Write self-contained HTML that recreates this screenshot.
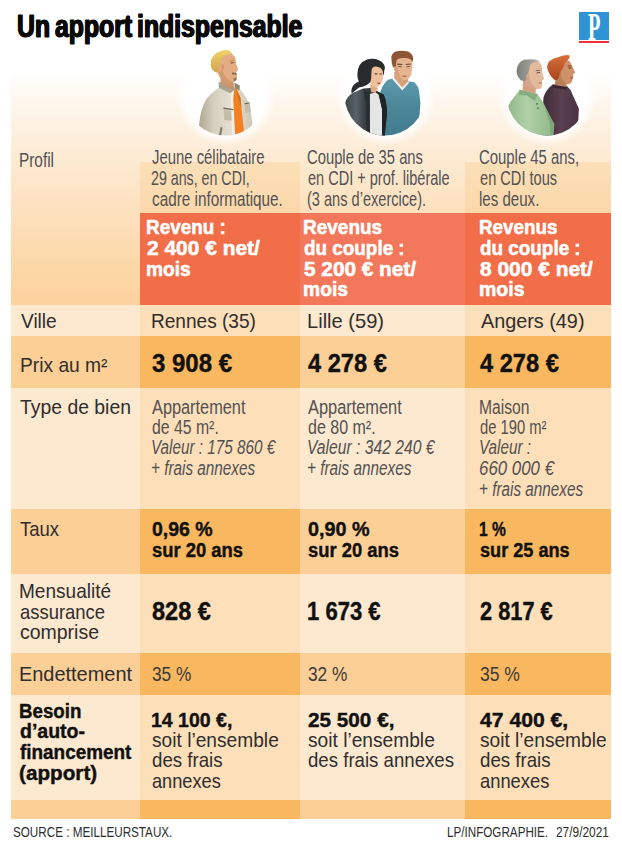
<!DOCTYPE html>
<html lang="fr"><head><meta charset="utf-8"><title>Un apport indispensable</title>
<style>
html,body{margin:0;padding:0;background:#fff;}
body{width:622px;height:847px;position:relative;overflow:hidden;font-family:"Liberation Sans",sans-serif;}
.c{position:absolute;}
.t{position:absolute;white-space:nowrap;line-height:1;transform-origin:0 50%;display:block;}
svg{position:absolute;left:0;top:0;}
</style></head><body>
<div class="c" style="left:11px;top:72px;width:600px;height:233px;background:linear-gradient(to bottom,#ffffff 0%,#FEF7EE 12%,#FDECD7 33%,#FDE1BF 58%,#FCD8A8 83%,#FCD29D 100%);"></div>
<div class="c" style="left:140px;top:162px;width:160px;height:51px;background:linear-gradient(to bottom,#FCDFB8,#FBD8AA);"></div>
<div class="c" style="left:465px;top:162px;width:146px;height:51px;background:linear-gradient(to bottom,#FCDFB8,#FBD8AA);"></div>
<div class="c" style="left:140px;top:213px;width:160px;height:92px;background:#F16E48;"></div>
<div class="c" style="left:300px;top:213px;width:165px;height:92px;background:#F3775A;"></div>
<div class="c" style="left:465px;top:213px;width:146px;height:92px;background:#F16E48;"></div>
<div class="c" style="left:11px;top:305px;width:129px;height:31px;background:#FDE8D0;"></div>
<div class="c" style="left:140px;top:305px;width:160px;height:31px;background:#FDDFBA;"></div>
<div class="c" style="left:300px;top:305px;width:165px;height:31px;background:#FDE8D0;"></div>
<div class="c" style="left:465px;top:305px;width:146px;height:31px;background:#FDDFBA;"></div>
<div class="c" style="left:11px;top:336px;width:129px;height:52px;background:#FCCF97;"></div>
<div class="c" style="left:140px;top:336px;width:160px;height:52px;background:#F9B760;"></div>
<div class="c" style="left:300px;top:336px;width:165px;height:52px;background:#FCCF97;"></div>
<div class="c" style="left:465px;top:336px;width:146px;height:52px;background:#F9B760;"></div>
<div class="c" style="left:11px;top:388px;width:129px;height:121px;background:#FDE8D0;"></div>
<div class="c" style="left:140px;top:388px;width:160px;height:121px;background:#FDDFBA;"></div>
<div class="c" style="left:300px;top:388px;width:165px;height:121px;background:#FDE8D0;"></div>
<div class="c" style="left:465px;top:388px;width:146px;height:121px;background:#FDDFBA;"></div>
<div class="c" style="left:11px;top:509px;width:129px;height:65px;background:#FCCF97;"></div>
<div class="c" style="left:140px;top:509px;width:160px;height:65px;background:#F9B760;"></div>
<div class="c" style="left:300px;top:509px;width:165px;height:65px;background:#FCCF97;"></div>
<div class="c" style="left:465px;top:509px;width:146px;height:65px;background:#F9B760;"></div>
<div class="c" style="left:11px;top:574px;width:129px;height:79px;background:#FDE8D0;"></div>
<div class="c" style="left:140px;top:574px;width:160px;height:79px;background:#FDDFBA;"></div>
<div class="c" style="left:300px;top:574px;width:165px;height:79px;background:#FDE8D0;"></div>
<div class="c" style="left:465px;top:574px;width:146px;height:79px;background:#FDDFBA;"></div>
<div class="c" style="left:11px;top:653px;width:129px;height:42px;background:#FCCF97;"></div>
<div class="c" style="left:140px;top:653px;width:160px;height:42px;background:#F9B760;"></div>
<div class="c" style="left:300px;top:653px;width:165px;height:42px;background:#FCCF97;"></div>
<div class="c" style="left:465px;top:653px;width:146px;height:42px;background:#F9B760;"></div>
<div class="c" style="left:11px;top:695px;width:129px;height:105px;background:#FDE8D0;"></div>
<div class="c" style="left:140px;top:695px;width:160px;height:105px;background:#FDDFBA;"></div>
<div class="c" style="left:300px;top:695px;width:165px;height:105px;background:#FDE8D0;"></div>
<div class="c" style="left:465px;top:695px;width:146px;height:105px;background:#FDDFBA;"></div>
<div class="c" style="left:11px;top:800px;width:129px;height:19px;background:#FCCF97;"></div>
<div class="c" style="left:140px;top:800px;width:160px;height:19px;background:#F9B760;"></div>
<div class="c" style="left:300px;top:800px;width:165px;height:19px;background:#FCCF97;"></div>
<div class="c" style="left:465px;top:800px;width:146px;height:19px;background:#F9B760;"></div>
<div class="c" style="left:174.5px;top:44px;width:102px;height:102px;border-radius:50%;background:radial-gradient(circle closest-side,#fff 0%,#fff 78%,rgba(255,255,255,0) 100%);"></div><div class="c" style="left:334.5px;top:44px;width:102px;height:102px;border-radius:50%;background:radial-gradient(circle closest-side,#fff 0%,#fff 78%,rgba(255,255,255,0) 100%);"></div><div class="c" style="left:496px;top:44px;width:102px;height:102px;border-radius:50%;background:radial-gradient(circle closest-side,#fff 0%,#fff 78%,rgba(255,255,255,0) 100%);"></div>
<svg width="622" height="160" viewBox="0 0 622 160">
<defs>
<clipPath id="k1"><circle cx="225.5" cy="95" r="40.5"/></clipPath>
<clipPath id="k2"><circle cx="385" cy="95" r="40.5"/></clipPath>
<clipPath id="k3"><circle cx="547" cy="95" r="40.5"/></clipPath>
<linearGradient id="jk" x1="0" x2="1" y1="0" y2="0"><stop offset="0" stop-color="#ACA38D"/><stop offset="0.3" stop-color="#D6CFBE"/><stop offset="0.6" stop-color="#E4DFD2"/><stop offset="1" stop-color="#CFC8B7"/></linearGradient>
<linearGradient id="wj" x1="0" x2="1" y1="0" y2="0"><stop offset="0" stop-color="#3A4146"/><stop offset="0.3" stop-color="#596268"/><stop offset="0.55" stop-color="#32383C"/><stop offset="1" stop-color="#1F2427"/></linearGradient>
<linearGradient id="tl" x1="0" x2="0" y1="0" y2="1"><stop offset="0" stop-color="#5C9AAC"/><stop offset="0.5" stop-color="#4A8698"/><stop offset="1" stop-color="#417C8E"/></linearGradient>
<linearGradient id="gp" x1="0" x2="1" y1="0" y2="0"><stop offset="0" stop-color="#8DB486"/><stop offset="0.45" stop-color="#B0D0A8"/><stop offset="1" stop-color="#8FB888"/></linearGradient>
<linearGradient id="pp" x1="0" x2="1" y1="0" y2="0"><stop offset="0" stop-color="#3E2A36"/><stop offset="0.5" stop-color="#5A4050"/><stop offset="1" stop-color="#4A3242"/></linearGradient>
<linearGradient id="h1" x1="0" x2="0" y1="0" y2="1"><stop offset="0" stop-color="#F0D36E"/><stop offset="1" stop-color="#D2A446"/></linearGradient>
<linearGradient id="h3" x1="0" x2="0" y1="0" y2="1"><stop offset="0" stop-color="#D86E3A"/><stop offset="1" stop-color="#A8461F"/></linearGradient>
<linearGradient id="h4" x1="0" x2="1" y1="0" y2="0"><stop offset="0" stop-color="#7E7E7A"/><stop offset="1" stop-color="#B2B1AC"/></linearGradient>
</defs>

<!-- ============ avatar 1 : young man, blond, beige jacket, orange tee ============ -->
<g clip-path="url(#k1)">
  <path d="M197 138 L199.1 124.7 Q200 112 205.6 100.3 Q209 94.5 219.1 87.4 L231 92 L239.7 88.6 Q246 96 250 106.7 L252.3 122 L253 138 Z" fill="url(#jk)"/>
  <path d="M223.6 110 L233.3 111 L234 121 L224.2 120 Z" fill="#C4BCA7"/>
  <path d="M244.6 105 L249.8 104 L250.8 112 L245.4 113 Z" fill="#C4BCA7"/>
  <path d="M230.6 90 L234 88 L233.4 99 L235.2 136 L232.2 136 Z" fill="#F2EEE4"/>
  <path d="M234.4 87.8 L235.9 87.8 L240.4 97.7 L244.2 134 L235.2 136 L233.3 99 Z" fill="#F47F20"/>
  <path d="M236 88 L240.4 97.7 L241.5 108 L238 97 Z" fill="#D96A12"/>
  <path d="M223.4 107.6 L233.3 108.9 L233.3 110.3 L223.4 109.1 Z" fill="#6B6759"/>
  <path d="M244.4 103.2 L249.6 102.2 L249.8 103.6 L244.6 104.6 Z" fill="#6B6759"/>
  <path d="M220.5 127 L222.5 127.6 L221 136 L219 136 Z" fill="#7C7768"/>
</g>
<!-- neck -->
<path d="M220.8 75 L220.3 84.4 L231 91 L234.6 87.6 L233 80.5 Z" fill="#CF946B"/>
<!-- collar -->
<path d="M218.6 81.6 L230.8 89.2 L234.2 86.6 L234.7 89.6 L230.3 93.3 L218.9 87.8 Z" fill="#A8A088"/>
<path d="M234.2 82.4 L239.9 85.6 L239.4 90.6 L235.2 88.6 Z" fill="#8E8873"/>
<!-- face -->
<path d="M232.4 53 L226 52.6 Q219.6 55.5 218.2 63 L217.6 72.7 Q219 78 223 80.6 L229 83.2 Q234 82.8 236.5 79.8 L237.2 76.4 L235.9 72.8 L238.1 69.6 L236.1 63.4 L235.5 58.8 Q234.2 55.4 231.9 53.8 Z" fill="#E3AC83"/>
<path d="M219.4 72.7 Q220 78 223 80.6 L229 83.2 Q232 83 234 81.8 Q228 80.5 224.5 76 Q222.5 72 222.6 68 Z" fill="#D29A70"/>
<ellipse cx="222.6" cy="67" rx="1.5" ry="2.6" fill="#D0956C"/>
<path d="M229.6 60.6 L234.6 59.8 L234.7 60.6 L229.8 61.5 Z" fill="#B48E3E"/>
<path d="M230.6 62.6 L234.2 62.2 L234.2 63.1 L230.8 63.5 Z" fill="#5A4232"/>
<path d="M231.8 72.4 L236.6 73 L236.6 74.8 L232.2 74.2 Z" fill="#7A6650"/>
<path d="M233.4 78.4 L236.6 77.8 L236.1 80.6 L234.2 81.3 Z" fill="#8A7256"/>
<!-- hair -->
<path d="M232 53.4 Q230.4 50.4 227.4 50 Q222 49.6 217.2 52.6 Q212 56 211 61 Q210.1 66 212 69.6 Q214.5 72.6 217.9 72.8 L219.8 64.3 Q220.6 60 222.4 57.8 Q225 55 228.8 54.5 Z" fill="url(#h1)"/>

<!-- ============ avatar 2 : woman dark hair + man teal sweater ============ -->
<g clip-path="url(#k2)">
  <!-- man sweater -->
  <path d="M379 138 L379.5 96 Q381 86 387.8 79.7 L393 78.6 L402.2 88 L408.4 81.6 L413.8 81.9 Q418.3 86 418.9 89.9 L420.4 102.9 L419.2 120 L421 138 Z" fill="url(#tl)"/>
  <path d="M392 78.8 L394.2 77.6 L402.3 87.2 L407.6 81.2 L409.2 82.6 L402.3 90.6 Z" fill="#EEF3F3"/>
  <!-- woman jacket -->
  <path d="M343 138 L345.1 102.9 Q347 96 353 92.7 L363.2 88.4 L371 88 L383.4 94.2 Q386.5 100 387 113 L384.5 138 Z" fill="url(#wj)"/>
  <path d="M369.6 94 L375.5 92.2 L379 95 L382 108.7 L382.2 138 L369.8 138 Z" fill="#E4E6E6"/>
  <path d="M378.6 94.6 L383.4 94.2 Q386.5 100 387 113 L384.5 138 L382.2 138 L382 108.7 Z" fill="#1E2326"/>
  <path d="M363.4 89 L369.8 94 L370 138 L366.5 138 L366 104 Z" fill="#2A2F33"/>
</g>
<!-- man neck + head -->
<path d="M394.2 72 L394.2 78 L402.3 87.6 L408.2 81.4 L408.2 74 Z" fill="#D6A07A"/>
<path d="M393.6 60 Q394 54 402.5 53.6 Q411.6 54 412.4 60 L412.4 67 L410.9 75.4 Q408 80 403.7 80.2 Q399 79.6 395.7 74 L393.5 66.7 Z" fill="#E6B48E"/>
<path d="M393.5 66.7 L395.7 74 Q399 79.6 403.7 80.2 Q400 77 398 72 L396.8 64 Z" fill="#D7A07A"/>
<path d="M397.2 63.6 L402.2 64 L402.2 65.1 L397.2 64.7 Z M405.8 64 L410.9 63.4 L410.9 64.5 L405.8 65.1 Z" fill="#5E4030"/>
<path d="M398.2 66.2 L401.6 66.4 L401.6 67.2 L398.2 67 Z M406.4 66.4 L409.8 66.2 L409.8 67 L406.4 67.2 Z" fill="#4A3428"/>
<path d="M402.2 75.6 L406.6 75.8 L406.2 76.9 L402.6 76.7 Z" fill="#A8604A"/>
<path d="M391.4 58.5 Q391 52 398 51 Q403 50.2 408 51.6 Q413.4 54 413.2 59.5 L412.4 62 Q411 57.6 404 58 Q399 57.6 396.6 60 L395.8 66 L393 67.2 Q391.4 63 391.4 58.5 Z" fill="#8A5636"/>
<!-- woman neck + head -->
<path d="M370 84 L371 92 L375.6 93 L378 88 Z" fill="#DFAC86"/>
<path d="M368.2 70 Q369 64.4 375 64.2 Q381.4 64.6 382.7 70 L383 78 Q382 84.6 376.6 87.2 Q372 86.6 369.2 81 Z" fill="#EEC19C"/>
<path d="M374.6 73.2 L377.4 73.4 L377.4 74.4 L374.6 74.2 Z M379.6 73.6 L382 73.4 L382 74.3 L379.6 74.5 Z" fill="#33261E"/>
<path d="M377.4 82.4 L380.2 82.6 L379.8 84.2 L377.8 84 Z" fill="#B5483B"/>
<path d="M357.4 73.9 Q357.6 63 367 59.6 Q373.4 57.8 379 60.2 Q385 63 384.9 68.2 L383.6 72.6 Q381.6 66.4 375 66.6 Q371.6 67 371.4 72 Q371.6 78 370.4 82 Q367 85.6 363.4 86.4 L359 87.4 Q354.6 91 351.6 93.4 Q350.6 89 353.6 85 Q356.6 82.2 358.8 81.4 Q357.2 78 357.4 73.9 Z" fill="#2A2B2D"/>

<path d="M381.8 66.6 Q384.4 68 384.2 72.6 L383.4 76 L382.6 70.6 Z" fill="#2A2B2D"/>
<!-- ============ avatar 3 : older man green polo + red-haired man purple ============ -->
<g clip-path="url(#k3)">
  <!-- purple sweater -->
  <path d="M542 138 L543.4 97.8 Q546 89 552.8 84.4 L567.3 86.6 Q570.6 89 572.4 94.2 L578.9 108.7 L578 126 L580 138 Z" fill="url(#pp)"/>
  <path d="M552.8 84.4 L567.3 86.6 L566.6 89.6 L552.2 87.4 Z" fill="#3A2632"/>
  <!-- green polo -->
  <path d="M505 138 L507.2 110.1 Q509 102 513 98.5 L519.5 89.9 L537.6 94.2 L543.4 102.9 L552.1 120.2 L554.3 123.9 L553 138 Z" fill="url(#gp)"/>
  <path d="M519.5 89.6 L537.8 94 L534.7 101 L527 95.6 L519 95 Z" fill="#86AE7E"/>
  <circle cx="536.9" cy="103.8" r="0.9" fill="#4E6B4A"/><circle cx="537.9" cy="108.1" r="0.9" fill="#4E6B4A"/>
  <path d="M543.4 102.9 L552.1 120.2 L554.3 123.9 L553 138 L550.6 138 L549.6 122 Z" fill="#7FA678"/>
</g>
<!-- red-haired man: neck, face, hair -->
<path d="M556 76 L554.6 85 L566.6 87 L566 80 Z" fill="#B97F58"/>
<path d="M563.7 59 L569.5 60.9 L572.4 66.7 L575.2 72.4 L573.2 74.2 L573.3 77.6 L571 83.3 Q566 85.4 559.3 82.6 L556.6 74 L558 64 Z" fill="#CF9169"/>
<path d="M556.6 74 L559.3 82.6 Q563 84.4 566.6 84.4 Q562.4 81 561 75.6 L560.6 68 Z" fill="#BC7E56"/>
<ellipse cx="559.2" cy="73.6" rx="1.5" ry="2.5" fill="#BC7E56"/>
<path d="M567.6 65.6 L571.6 65.2 L571.8 66.2 L567.8 66.6 Z" fill="#8E3F1E"/>
<path d="M568.6 67.6 L571.6 67.4 L571.6 68.3 L568.6 68.5 Z" fill="#3E2A20"/>
<path d="M570.4 77.4 L573.2 77.2 L573 78.3 L570.6 78.5 Z" fill="#9C4E3A"/>
<path d="M547 66.7 Q547.6 59.6 557.9 57.3 Q563 55.2 568 55.1 Q570.4 55.6 569.4 58 Q567.4 60.6 565.6 62 Q564 64 563.7 66.7 L561.8 70 Q559.6 72 559.4 76 L557.4 80 L554.3 79.7 Q548.6 75 547 66.7 Z" fill="url(#h3)"/>
<!-- older man: neck, face, hair -->
<path d="M523 80 L522.6 90.6 L535.6 93.6 L536 86 Z" fill="#D3A182"/>
<path d="M528.9 60.4 Q534 59.4 539.1 60.9 L542 66.7 L542.3 73 L544.2 79 L542 80.6 L542.2 84 L541.2 88.4 Q536 90.2 528.9 87 L524 80 L524.6 68 Z" fill="#E4BA9C"/>
<path d="M524 80 L528.9 87 Q533 89 537 89.2 Q532 85.6 530 80 L528.6 72 Z" fill="#D3A588"/>
<ellipse cx="525.2" cy="78.2" rx="1.6" ry="2.7" fill="#D3A588"/>
<path d="M535.6 70.2 L540.2 69.8 L540.4 70.8 L535.8 71.2 Z" fill="#77736E"/>
<path d="M536.6 72.4 L540 72.2 L540 73.1 L536.6 73.3 Z" fill="#40342C"/>
<path d="M538.6 82.6 L541.8 82.4 L541.6 83.4 L538.8 83.6 Z" fill="#A86A5A"/>
<path d="M516.6 70 Q517.6 62 524 59.8 Q530 58.6 535 59.6 L539.1 60.9 Q533 61.6 530.8 64 Q529.4 67 529 71 Q527.8 74 526.4 75.6 L525.6 81.2 L521 80.6 Q516.4 76 516.6 70 Z" fill="url(#h4)"/>
</svg>

<div class="c" style="left:578.5px;top:12px;width:30.5px;height:28px;background:#2F93D5;"></div>
<div class="c" style="left:578.5px;top:40.7px;width:30.5px;height:2.2px;background:#EE2F3D;"></div>
<span class="t" style="left:588.3px;top:7px;font-family:'Liberation Serif',serif;font-weight:bold;font-size:39px;color:#fff;transform:scaleX(0.52);">P</span>
<span class="t" id="t0" style="left:17.33px;top:10.00px;font-size:32.2px;color:#0a0a0a;font-weight:bold;-webkit-text-stroke:1.0px #0a0a0a;text-shadow:0.75px 0 0 #0a0a0a,-0.75px 0 0 #0a0a0a;word-spacing:-0.08em;transform:scaleX(0.7704);">Un apport indispensable</span>
<span class="t" id="t1" style="left:18.85px;top:150.00px;font-size:20.6px;color:#525252;transform:scaleX(0.7454);">Profil</span>
<span class="t" id="t2" style="left:151.6px;top:148.00px;font-size:19.9px;color:#525252;transform:scaleX(0.7477);">Jeune célibataire</span>
<span class="t" id="t3" style="left:150.89px;top:169.00px;font-size:19.9px;color:#525252;transform:scaleX(0.7149);">29 ans, en CDI,</span>
<span class="t" id="t4" style="left:151.6px;top:190.00px;font-size:19.9px;color:#525252;transform:scaleX(0.7686);">cadre informatique.</span>
<span class="t" id="t5" style="left:307.46px;top:148.00px;font-size:19.9px;color:#525252;transform:scaleX(0.7439);">Couple de 35 ans</span>
<span class="t" id="t6" style="left:308.2px;top:169.00px;font-size:19.9px;color:#525252;transform:scaleX(0.7300);">en CDI + prof. libérale</span>
<span class="t" id="t7" style="left:307.47px;top:190.00px;font-size:19.9px;color:#525252;transform:scaleX(0.7326);">(3 ans d’exercice).</span>
<span class="t" id="t8" style="left:479.25px;top:148.00px;font-size:19.9px;color:#525252;transform:scaleX(0.7488);">Couple 45 ans,</span>
<span class="t" id="t9" style="left:480.0px;top:169.00px;font-size:19.9px;color:#525252;transform:scaleX(0.7347);">en CDI tous</span>
<span class="t" id="t10" style="left:479.24px;top:190.00px;font-size:19.9px;color:#525252;transform:scaleX(0.7576);">les deux.</span>
<span class="t" id="t11" style="left:146.27px;top:217.00px;font-size:20.4px;color:#fff;font-weight:bold;-webkit-text-stroke:0.55px #fff;transform:scaleX(0.9265);">Revenu :</span>
<span class="t" id="t12" style="left:147.2px;top:238.00px;font-size:20.4px;color:#fff;font-weight:bold;-webkit-text-stroke:0.55px #fff;transform:scaleX(1.0265);">2 400 € net/</span>
<span class="t" id="t13" style="left:146.26px;top:259.00px;font-size:20.4px;color:#fff;font-weight:bold;-webkit-text-stroke:0.55px #fff;transform:scaleX(0.9405);">mois</span>
<span class="t" id="t14" style="left:302.97px;top:217.00px;font-size:20.4px;color:#fff;font-weight:bold;-webkit-text-stroke:0.55px #fff;transform:scaleX(0.9312);">Revenus</span>
<span class="t" id="t15" style="left:303.9px;top:238.00px;font-size:20.4px;color:#fff;font-weight:bold;-webkit-text-stroke:0.55px #fff;transform:scaleX(0.9256);">du couple :</span>
<span class="t" id="t16" style="left:303.9px;top:259.00px;font-size:20.4px;color:#fff;font-weight:bold;-webkit-text-stroke:0.55px #fff;transform:scaleX(1.0192);">5 200 € net/</span>
<span class="t" id="t17" style="left:302.96px;top:279.00px;font-size:20.4px;color:#fff;font-weight:bold;-webkit-text-stroke:0.55px #fff;transform:scaleX(0.9448);">mois</span>
<span class="t" id="t18" style="left:479.08px;top:217.00px;font-size:20.4px;color:#fff;font-weight:bold;-webkit-text-stroke:0.55px #fff;transform:scaleX(0.9228);">Revenus</span>
<span class="t" id="t19" style="left:480.0px;top:238.00px;font-size:20.4px;color:#fff;font-weight:bold;-webkit-text-stroke:0.55px #fff;transform:scaleX(0.9256);">du couple :</span>
<span class="t" id="t20" style="left:480.0px;top:259.00px;font-size:20.4px;color:#fff;font-weight:bold;-webkit-text-stroke:0.55px #fff;transform:scaleX(1.0265);">8 000 € net/</span>
<span class="t" id="t21" style="left:479.04px;top:279.00px;font-size:20.4px;color:#fff;font-weight:bold;-webkit-text-stroke:0.55px #fff;transform:scaleX(0.9557);">mois</span>
<span class="t" id="t22" style="left:21.4px;top:312.00px;font-size:19.8px;color:#2e2e2e;transform:scaleX(0.9643);">Ville</span>
<span class="t" id="t23" style="left:150.64px;top:312.00px;font-size:19.8px;color:#2e2e2e;transform:scaleX(0.9639);">Rennes (35)</span>
<span class="t" id="t24" style="left:307.18px;top:312.00px;font-size:19.8px;color:#2e2e2e;transform:scaleX(1.0152);">Lille (59)</span>
<span class="t" id="t25" style="left:480.5px;top:312.00px;font-size:19.8px;color:#2e2e2e;transform:scaleX(1.0013);">Angers (49)</span>
<span class="t" id="t26" style="left:19.83px;top:356.00px;font-size:19.8px;color:#2e2e2e;transform:scaleX(0.9705);">Prix au m²</span>
<span class="t" id="t27" style="left:151.6px;top:351.00px;font-size:24.9px;color:#111111;font-weight:bold;-webkit-text-stroke:0.4px #111111;transform:scaleX(0.9639);">3 908 €</span>
<span class="t" id="t28" style="left:307.7px;top:351.00px;font-size:24.9px;color:#111111;font-weight:bold;-webkit-text-stroke:0.4px #111111;transform:scaleX(0.9495);">4 278 €</span>
<span class="t" id="t29" style="left:480.0px;top:351.00px;font-size:24.9px;color:#111111;font-weight:bold;-webkit-text-stroke:0.4px #111111;transform:scaleX(0.9495);">4 278 €</span>
<span class="t" id="t30" style="left:20.0px;top:398.00px;font-size:19.8px;color:#2e2e2e;transform:scaleX(0.9797);">Type de bien</span>
<span class="t" id="t31" style="left:151.6px;top:398.00px;font-size:19.6px;color:#525252;transform:scaleX(0.8329);">Appartement</span>
<span class="t" id="t32" style="left:151.6px;top:418.00px;font-size:19.6px;color:#525252;transform:scaleX(0.8067);">de 45 m².</span>
<span class="t" id="t33" style="left:150.82px;top:438.00px;font-size:19.6px;color:#525252;font-style:italic;transform:scaleX(0.7786);">Valeur : 175 860 €</span>
<span class="t" id="t34" style="left:150.82px;top:459.00px;font-size:19.6px;color:#525252;font-style:italic;transform:scaleX(0.7796);">+ frais annexes</span>
<span class="t" id="t35" style="left:308.2px;top:398.00px;font-size:19.6px;color:#525252;transform:scaleX(0.8355);">Appartement</span>
<span class="t" id="t36" style="left:308.2px;top:418.00px;font-size:19.6px;color:#525252;transform:scaleX(0.8165);">de 80 m².</span>
<span class="t" id="t37" style="left:307.4px;top:438.00px;font-size:19.6px;color:#525252;font-style:italic;transform:scaleX(0.7999);">Valeur : 342 240 €</span>
<span class="t" id="t38" style="left:307.42px;top:459.00px;font-size:19.6px;color:#525252;font-style:italic;transform:scaleX(0.7819);">+ frais annexes</span>
<span class="t" id="t39" style="left:479.2px;top:398.00px;font-size:19.6px;color:#525252;transform:scaleX(0.7982);">Maison</span>
<span class="t" id="t40" style="left:480.0px;top:418.00px;font-size:19.6px;color:#525252;transform:scaleX(0.7543);">de 190 m²</span>
<span class="t" id="t41" style="left:479.22px;top:438.00px;font-size:19.6px;color:#525252;font-style:italic;transform:scaleX(0.7788);">Valeur :</span>
<span class="t" id="t42" style="left:479.14px;top:459.00px;font-size:19.6px;color:#525252;font-style:italic;transform:scaleX(0.8605);">660 000 €</span>
<span class="t" id="t43" style="left:479.22px;top:480.00px;font-size:19.6px;color:#525252;font-style:italic;transform:scaleX(0.7796);">+ frais annexes</span>
<span class="t" id="t44" style="left:20.0px;top:520.00px;font-size:19.8px;color:#2e2e2e;transform:scaleX(0.9357);">Taux</span>
<span class="t" id="t45" style="left:151.6px;top:519.00px;font-size:20.0px;color:#111111;font-weight:bold;-webkit-text-stroke:0.4px #111111;transform:scaleX(0.9747);">0,96 %</span>
<span class="t" id="t46" style="left:151.6px;top:540.00px;font-size:20.0px;color:#111111;font-weight:bold;-webkit-text-stroke:0.4px #111111;transform:scaleX(0.9188);">sur 20 ans</span>
<span class="t" id="t47" style="left:308.2px;top:519.00px;font-size:20.0px;color:#111111;font-weight:bold;-webkit-text-stroke:0.4px #111111;transform:scaleX(0.9891);">0,90 %</span>
<span class="t" id="t48" style="left:308.2px;top:540.00px;font-size:20.0px;color:#111111;font-weight:bold;-webkit-text-stroke:0.4px #111111;transform:scaleX(0.9188);">sur 20 ans</span>
<span class="t" id="t49" style="left:479.22px;top:519.00px;font-size:20.0px;color:#111111;font-weight:bold;-webkit-text-stroke:0.4px #111111;transform:scaleX(0.7779);">1 %</span>
<span class="t" id="t50" style="left:480.0px;top:540.00px;font-size:20.0px;color:#111111;font-weight:bold;-webkit-text-stroke:0.4px #111111;transform:scaleX(0.9057);">sur 25 ans</span>
<span class="t" id="t51" style="left:19.04px;top:582.00px;font-size:19.8px;color:#2e2e2e;transform:scaleX(0.9624);">Mensualité</span>
<span class="t" id="t52" style="left:20.0px;top:603.00px;font-size:19.8px;color:#2e2e2e;transform:scaleX(0.9314);">assurance</span>
<span class="t" id="t53" style="left:20.0px;top:623.00px;font-size:19.8px;color:#2e2e2e;transform:scaleX(0.9845);">comprise</span>
<span class="t" id="t54" style="left:151.6px;top:599.00px;font-size:24.9px;color:#111111;font-weight:bold;-webkit-text-stroke:0.4px #111111;transform:scaleX(0.9464);">828 €</span>
<span class="t" id="t55" style="left:307.31px;top:599.00px;font-size:24.9px;color:#111111;font-weight:bold;-webkit-text-stroke:0.4px #111111;transform:scaleX(0.8856);">1 673 €</span>
<span class="t" id="t56" style="left:480.0px;top:599.00px;font-size:24.9px;color:#111111;font-weight:bold;-webkit-text-stroke:0.4px #111111;transform:scaleX(0.8750);">2 817 €</span>
<span class="t" id="t57" style="left:18.99px;top:665.00px;font-size:19.8px;color:#2e2e2e;transform:scaleX(1.0074);">Endettement</span>
<span class="t" id="t58" style="left:151.6px;top:664.00px;font-size:20.3px;color:#3a3a3a;transform:scaleX(0.8508);">35 %</span>
<span class="t" id="t59" style="left:308.2px;top:664.00px;font-size:20.3px;color:#3a3a3a;transform:scaleX(0.8529);">32 %</span>
<span class="t" id="t60" style="left:480.0px;top:664.00px;font-size:20.3px;color:#3a3a3a;transform:scaleX(0.8638);">35 %</span>
<span class="t" id="t61" style="left:19.06px;top:701.00px;font-size:20.0px;color:#111111;font-weight:bold;-webkit-text-stroke:0.4px #111111;transform:scaleX(0.9354);">Besoin</span>
<span class="t" id="t62" style="left:20.0px;top:721.00px;font-size:20.0px;color:#111111;font-weight:bold;-webkit-text-stroke:0.4px #111111;transform:scaleX(0.9759);">d’auto-</span>
<span class="t" id="t63" style="left:20.0px;top:742.00px;font-size:20.0px;color:#111111;font-weight:bold;-webkit-text-stroke:0.4px #111111;transform:scaleX(0.9455);">financement</span>
<span class="t" id="t64" style="left:18.96px;top:763.00px;font-size:20.0px;color:#111111;font-weight:bold;-webkit-text-stroke:0.4px #111111;transform:scaleX(1.0355);">(apport)</span>
<span class="t" id="t65" style="left:150.65px;top:710.00px;font-size:20.6px;color:#111111;font-weight:bold;-webkit-text-stroke:0.4px #111111;transform:scaleX(0.9470);">14 100 €,</span>
<span class="t" id="t66" style="left:151.6px;top:731.00px;font-size:19.8px;color:#2e2e2e;transform:scaleX(0.9691);">soit l’ensemble</span>
<span class="t" id="t67" style="left:151.6px;top:751.00px;font-size:19.8px;color:#2e2e2e;transform:scaleX(0.9443);">des frais</span>
<span class="t" id="t68" style="left:151.6px;top:772.00px;font-size:19.8px;color:#2e2e2e;transform:scaleX(0.9199);">annexes</span>
<span class="t" id="t69" style="left:308.2px;top:710.00px;font-size:20.6px;color:#111111;font-weight:bold;-webkit-text-stroke:0.4px #111111;transform:scaleX(1.0063);">25 500 €,</span>
<span class="t" id="t70" style="left:308.2px;top:731.00px;font-size:19.8px;color:#2e2e2e;transform:scaleX(0.9691);">soit l’ensemble</span>
<span class="t" id="t71" style="left:308.2px;top:751.00px;font-size:19.8px;color:#2e2e2e;transform:scaleX(0.9417);">des frais annexes</span>
<span class="t" id="t72" style="left:480.0px;top:710.00px;font-size:20.6px;color:#111111;font-weight:bold;-webkit-text-stroke:0.4px #111111;transform:scaleX(1.0274);">47 400 €,</span>
<span class="t" id="t73" style="left:480.0px;top:731.00px;font-size:19.8px;color:#2e2e2e;transform:scaleX(0.9676);">soit l’ensemble</span>
<span class="t" id="t74" style="left:480.0px;top:751.00px;font-size:19.8px;color:#2e2e2e;transform:scaleX(0.9443);">des frais</span>
<span class="t" id="t75" style="left:480.0px;top:772.00px;font-size:19.8px;color:#2e2e2e;transform:scaleX(0.9279);">annexes</span>
<span class="t" id="t76" style="left:13.4px;top:825.00px;font-size:14.1px;color:#2e2e2e;transform:scaleX(0.8283);">SOURCE : MEILLEURSTAUX.</span>
<span class="t" id="t77" style="left:446.67px;top:825.00px;font-size:14.1px;color:#2e2e2e;transform:scaleX(0.8274);">LP/INFOGRAPHIE.</span>
<span class="t" id="t78" style="left:556.0px;top:825.00px;font-size:14.1px;color:#2e2e2e;transform:scaleX(0.8431);">27/9/2021</span>
</body></html>
